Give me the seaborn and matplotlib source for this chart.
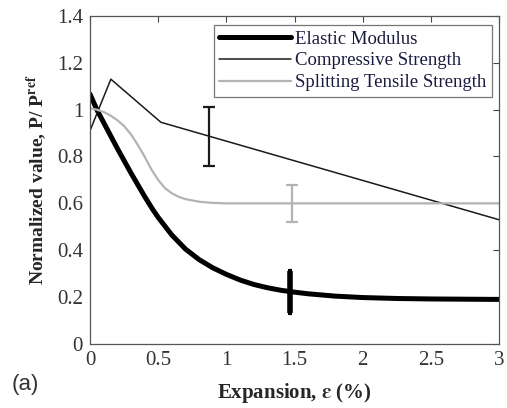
import numpy as np
import pandas as pd
import matplotlib
matplotlib.use("Agg")
import matplotlib.pyplot as plt
import seaborn as sns

# --- data ---
elastic_x = [0.0, 0.02, 0.05, 0.1, 0.2, 0.3, 0.4, 0.46, 0.5, 0.6, 0.7, 0.8, 0.9, 1.0,
             1.1, 1.2, 1.3, 1.4, 1.5, 1.6, 1.8, 2.0, 2.25, 2.5, 3.0]
elastic_y = [1.066, 1.04, 1.0, 0.945, 0.835, 0.73, 0.63, 0.574, 0.54, 0.465, 0.405, 0.36, 0.325, 0.297,
             0.273, 0.254, 0.24, 0.229, 0.221, 0.214, 0.204, 0.198, 0.194, 0.192, 0.19]

comp_x = [0.0, 0.153, 0.52, 3.0]
comp_y = [0.91, 1.13, 0.946, 0.53]

split_x = [0.0, 0.05, 0.1, 0.15, 0.2, 0.25, 0.3, 0.35, 0.4, 0.45, 0.5, 0.55, 0.6, 0.65, 0.7,
           0.8, 0.9, 1.0, 3.0]
split_y = [1.006, 1.0, 0.99, 0.975, 0.955, 0.93, 0.895, 0.85, 0.80, 0.745, 0.70, 0.665, 0.643, 0.628, 0.618,
           0.607, 0.602, 0.60, 0.60]

# error bars: x, centre, half-range
err_comp = (0.874, 0.884, 0.126)
err_split = (1.48, 0.60, 0.08)
err_elastic = (1.47, 0.22, 0.09)

labels = ["Elastic Modulus", "Compressive Strength", "Splitting Tensile Strength"]

sns.set_theme(style="white")
plt.rcParams['font.family'] = ['Liberation Serif', 'DejaVu Serif']
plt.rcParams['mathtext.fontset'] = 'stix'

fig = plt.figure(figsize=(5.07, 4.08), dpi=100)
ax = fig.add_axes([0.1775, 0.157, 0.807, 0.804])

df_e = pd.DataFrame({"x": elastic_x, "y": elastic_y})
df_c = pd.DataFrame({"x": comp_x, "y": comp_y})
df_s = pd.DataFrame({"x": split_x, "y": split_y})

sns.lineplot(data=df_e, x="x", y="y", ax=ax, color="black", linewidth=3.6, label=labels[0])
sns.lineplot(data=df_c, x="x", y="y", ax=ax, color="#1a1a1a", linewidth=1.1, label=labels[1])
sns.lineplot(data=df_s, x="x", y="y", ax=ax, color="#b3b3b3", linewidth=1.6, label=labels[2])

ax.errorbar(err_comp[0], err_comp[1], yerr=err_comp[2], color="#1a1a1a", lw=1.6, capsize=4, capthick=1.6)
ax.errorbar(err_split[0], err_split[1], yerr=err_split[2], color="#b3b3b3", lw=1.6, capsize=4, capthick=1.6)
ax.errorbar(err_elastic[0], err_elastic[1], yerr=err_elastic[2], color="black", lw=4, capsize=1.5, capthick=3)

ax.set_xlim(0, 3)
ax.set_ylim(0, 1.4)
ax.set_xticks([0, 0.5, 1, 1.5, 2, 2.5, 3])
ax.set_xticklabels(["0", "0.5", "1", "1.5", "2", "2.5", "3"])
ax.set_yticks([0, 0.2, 0.4, 0.6, 0.8, 1.0, 1.2, 1.4])
ax.set_yticklabels(["0", "0.2", "0.4", "0.6", "0.8", "1", "1.2", "1.4"])
ax.tick_params(direction="in", length=4, width=0.8, top=True, right=True,
               labelsize=15, colors="#444444", labelcolor="#333333", pad=5)
for sp in ax.spines.values():
    sp.set_color("#555555")
    sp.set_linewidth(0.9)

ax.set_xlabel(r"Expansion, $\mathbf{\varepsilon}$ (%)", fontsize=15, fontweight="bold", labelpad=8)
ax.set_ylabel(r"Normalized value, P/ P$^{\mathbf{ref}}$", fontsize=14, fontweight="bold", labelpad=6)

leg = ax.legend(loc="upper right", bbox_to_anchor=(0.983, 0.973), fontsize=13.5,
                frameon=True, fancybox=False, edgecolor="#555555", handlelength=3.8,
                handletextpad=0.25, borderpad=0.3, labelspacing=0.25, borderaxespad=0)
leg.get_frame().set_linewidth(0.9)
for t in leg.get_texts():
    t.set_color("#1a1a40")

fig.text(0.022, 0.045, "(a)", fontsize=16, family="Liberation Sans", color="#333333")

fig.savefig("out.png", dpi=100)
